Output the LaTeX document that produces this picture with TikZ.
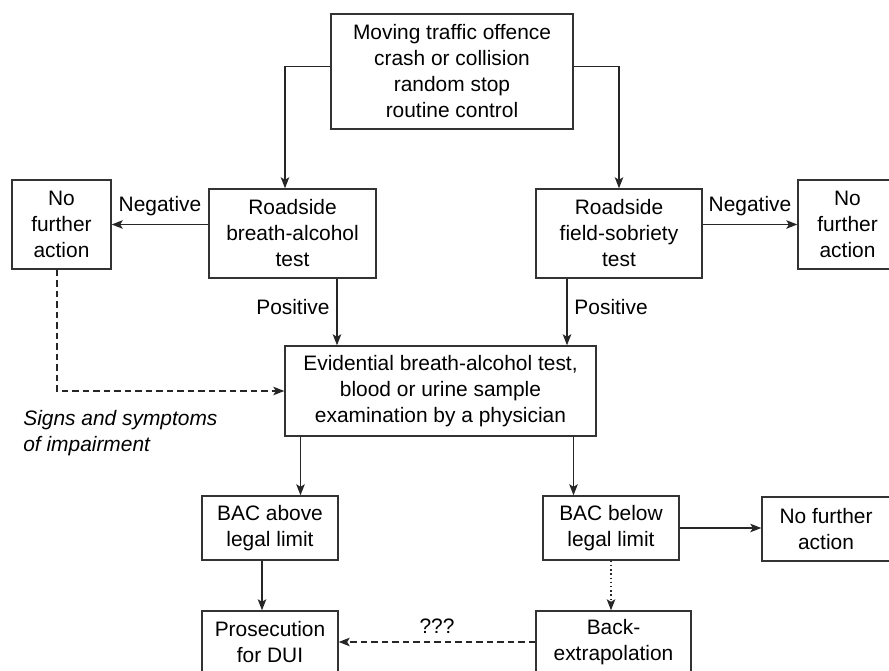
\documentclass[tikz,border=0pt]{standalone}
\usepackage{fontspec}
\setmainfont{Liberation Sans}
\usepackage{tikz}
\usetikzlibrary{arrows.meta,calc}

\begin{document}
\begin{tikzpicture}[x=0.02cm, y=-0.02cm,
		font=\fontsize{11.9}{14.8}\selectfont,
		box/.style={draw=black!80, line width=0.8pt, align=center, inner sep=2pt},
		flow/.style={draw=black!85, line width=0.8pt, -{Stealth[length=0.22cm, width=0.17cm, inset=0.05cm]}},
		lbl/.style={inner sep=1pt}
		]
	
		\clip (0,0) rectangle (889,671);
		
		\node[box, minimum width=4.84cm, minimum height=2.30cm] (cause) at (452,71.5)
			{Moving traffic offence\\crash or collision\\random stop\\routine control};
		
		\node[box, minimum width=3.34cm, minimum height=1.78cm] (breath) at (292.5,233.5)
			{Roadside\\breath-alcohol\\test};
		\node[box, minimum width=3.32cm, minimum height=1.78cm] (sobriety) at (619,233.5)
			{Roadside\\field-sobriety\\test};
		\node[box, minimum width=1.98cm, minimum height=1.78cm] (nfaL) at (61.5,224.5)
			{No\\further\\action};
		\node[box, minimum width=1.98cm, minimum height=1.78cm] (nfaR) at (847.5,224.5)
			{No\\further\\action};
		
		\node[box, minimum width=6.22cm, minimum height=1.80cm] (evid) at (440.5,391)
			{Evidential breath-alcohol test,\\blood or urine sample\\examination by a physician};
		
		\node[box, minimum width=2.72cm, minimum height=1.28cm] (above) at (270,528)
			{BAC above\\legal limit};
		\node[box, minimum width=2.72cm, minimum height=1.28cm] (below) at (611,528)
			{BAC below\\legal limit};
		\node[box, minimum width=2.56cm, minimum height=1.28cm] (nfaB) at (826,529)
			{No further\\action};
		
		\node[box, minimum width=2.72cm, minimum height=1.24cm] (prosec) at (270,642)
			{Prosecution\\for DUI};
		\node[box, minimum width=3.10cm, minimum height=1.24cm] (backx) at (613.5,642)
			{Back-\\extrapolation};
		
		\draw[flow] ([yshift=0.1cm]cause.west) -| ([xshift=-0.15cm]breath.north);
		\draw[flow] ([yshift=0.1cm]cause.east) -| (sobriety.north);
		
		\draw[flow] (breath.west |- nfaL.east) -- node[lbl, above=0.12cm] {Negative} (nfaL.east);
		\draw[flow] (sobriety.east |- nfaR.west) -- node[lbl, above=0.12cm] {Negative} (nfaR.west);
		
		\draw[flow] ([xshift=0.89cm]breath.south) -- node[lbl, left=0.1cm, yshift=0.1cm] {Positive} ([xshift=0.89cm]breath.south |- evid.north);
		\draw[flow] ([xshift=-1.04cm]sobriety.south) -- node[lbl, right=0.1cm, yshift=0.1cm] {Positive} ([xshift=-1.04cm]sobriety.south |- evid.north);
		
		\draw[flow, dash pattern=on 0.13cm off 0.08cm] ([xshift=-0.09cm]nfaL.south) |- (evid.west);
		\node[lbl, inner sep=0pt, anchor=north west, align=left, font=\fontsize{11.9}{14.8}\selectfont\itshape] (signs) at (23,410)
			{Signs and symptoms\\of impairment};
		
		\draw[flow] ([xshift=0.61cm]above.north |- evid.south) -- ([xshift=0.61cm]above.north);
		\draw[flow] ([xshift=-0.75cm]below.north |- evid.south) -- ([xshift=-0.75cm]below.north);
		
		\draw[flow] ([xshift=-0.16cm]above.south) -- ([xshift=-0.16cm]above.south |- prosec.north);
		\draw[flow] (below.east) -- (below.east -| nfaB.west);
		\draw[flow, dash pattern=on 0.8pt off 1.6pt] (below.south) -- (below.south |- backx.north);
		\draw[flow, dash pattern=on 0.13cm off 0.08cm] (backx.west |- prosec.east) -- node[lbl, above=0.12cm] {???} (prosec.east);
		
	\end{tikzpicture}
\end{document}
